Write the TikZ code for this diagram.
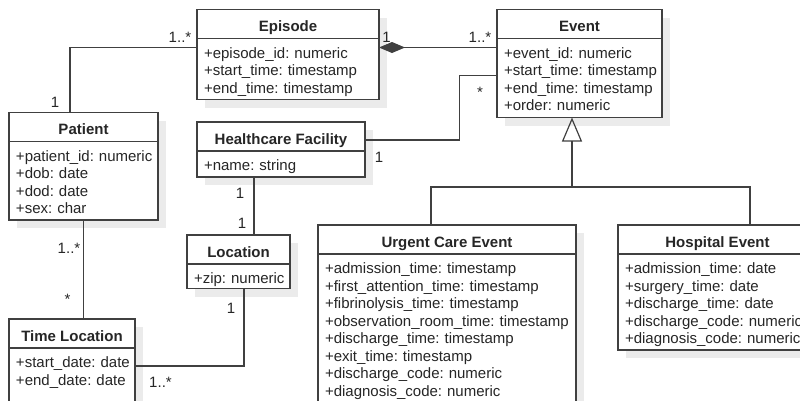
\documentclass[tikz,border=0pt]{standalone}
\usepackage{fontspec}
\setmainfont{Liberation Sans}
\usetikzlibrary{positioning,shadows,arrows.meta}
\definecolor{ink}{HTML}{262626}
\definecolor{edgec}{HTML}{404040}
\definecolor{shade}{HTML}{EBEBEB}

\begin{document}
\begin{tikzpicture}[x=1pt,y=-1pt,text=ink,font=\fontsize{15}{17.5}\selectfont]
  \tikzstyle{shad}=[drop shadow={shadow xshift=8pt,shadow yshift=-8pt,fill=shade,opacity=1}]
  \tikzstyle{cls}=[draw=edgec,fill=white,line width=1.2pt,inner sep=0pt,outer sep=0pt,
                   minimum height=29,text height=22,text depth=7,anchor=north west,
                   font=\fontsize{15}{17.5}\selectfont\bfseries,shad]
  \tikzstyle{attrs}=[draw=edgec,fill=white,line width=1.2pt,inner xsep=7pt,inner ysep=0pt,
                     outer sep=0pt,align=left,text height=19.5,shad,
                     execute at begin node={\hyphenpenalty=10000\exhyphenpenalty=10000\hbadness=10000\hfuzz=20pt}]
  \tikzstyle{link}=[draw=edgec,line width=1.2pt]
  \tikzstyle{mult}=[inner sep=0pt,anchor=base]
  \useasboundingbox (0,0) rectangle (800,400);
  \clip (0,0) rectangle (800,400);

  \node[cls,minimum width=182] (EpT) at (197,9.5)  {Episode};
  \node[attrs,text width=168,text depth=41.5,below=0pt of EpT] (EpA)
        {+episode\_id:~numeric\\+start\_time:~timestamp\\+end\_time:~timestamp};
  \node[cls,minimum width=165] (EvT) at (497,9.5)  {Event};
  \node[attrs,text width=151,text depth=59.5,below=0pt of EvT] (EvA)
        {+event\_id:~numeric\\+start\_time:~timestamp\\+end\_time:~timestamp\\+order:~numeric};
  \node[cls,minimum width=149] (PaT) at (9,112.5)  {Patient};
  \node[attrs,text width=135,text depth=59,below=0pt of PaT] (PaA)
        {+patient\_id:~numeric\\+dob:~date\\+dod:~date\\+sex:~char};
  \node[cls,minimum width=168] (HFT) at (197,122)  {Healthcare Facility};
  \node[attrs,text width=154,text depth=6.5,below=0pt of HFT] (HFA)
        {+name:~string};
  \node[cls,minimum width=103] (LoT) at (187,235)  {Location};
  \node[attrs,text width=89,text depth=5,below=0pt of LoT] (LoA)
        {+zip:~numeric};
  \node[cls,minimum width=126] (TLT) at (9,319)    {Time Location};
  \node[attrs,text width=112,text depth=42.5,below=0pt of TLT] (TLA)
        {+start\_date:~date\\+end\_date:~date};
  \node[cls,minimum width=258] (UCT) at (318,225)  {Urgent Care Event};
  \node[attrs,text width=244,text depth=132.5,below=0pt of UCT] (UCA)
        {+admission\_time:~timestamp\\+first\_attention\_time:~timestamp\\
         +fibrinolysis\_time:~timestamp\\+observation\_room\_time:~timestamp\\
         +discharge\_time:~timestamp\\+exit\_time:~timestamp\\
         +discharge\_code:~numeric\\+diagnosis\_code:~numeric};
  \node[cls,minimum width=199] (HET) at (618,225)  {Hospital Event};
  \node[attrs,text width=185,text depth=76.5,below=0pt of HET] (HEA)
        {+admission\_time:~date\\+surgery\_time:~date\\+discharge\_time:~date\\
         +discharge\_code:~numeric\\+diagnosis\_code:~numeric};

  \coordinate (J) at (572,187);
  \draw[link] ([xshift=-13.5]PaT.north) |- ([yshift=-9]EpT.south west);
  \draw[link,{Diamond[length=26pt,width=11pt]}-] ([yshift=-9]EpT.south east) -- ([yshift=-9]EvT.south west);
  \draw[link] ([yshift=-3.5]HFT.east) -- ++(94.5,0) |- ([yshift=-37]EvA.north west);
  \draw[link] ([xshift=57]HFA.south west) -- ([xshift=57]HFA.south west |- LoT.north);
  \draw[link] (PaA.south) -- (PaA.south |- TLT.north);
  \draw[link] ([xshift=5.5]LoA.south) |- ([yshift=-18]TLA.north east);
  \draw[link] ([xshift=-16]UCT.north) |- (J);
  \draw[link] ([xshift=32.5]HET.north) |- (J);
  \draw[link,-{Triangle[open,length=24pt,width=20pt]}] (J) -- (J |- EvA.south);

  \node[mult] (m1)  at (180,42)   {1..*};
  \node[mult] (m2)  at (55,107)   {1};
  \node[mult] (m3)  at (386.5,42) {1};
  \node[mult] (m4)  at (480,42)   {1..*};
  \node[mult] (m5)  at (480,97)   {*};
  \node[mult] (m6)  at (379,162)  {1};
  \node[mult] (m7)  at (240,198)  {1};
  \node[mult] (m8)  at (242,228)  {1};
  \node[mult] (m9)  at (69,253)   {1..*};
  \node[mult] (m10) at (67.5,304) {*};
  \node[mult] (m11) at (231,313)  {1};
  \node[mult] (m12) at (160.5,387) {1..*};
\end{tikzpicture}
\end{document}
